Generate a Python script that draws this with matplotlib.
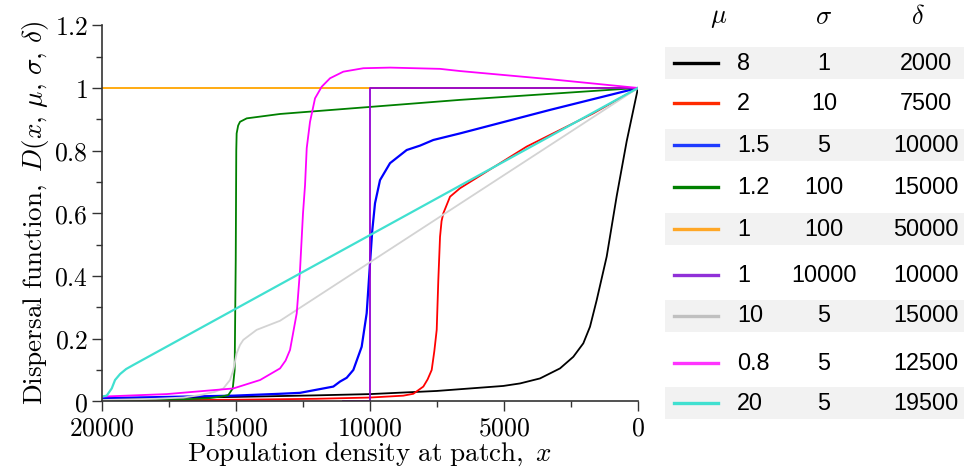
import numpy as np
import matplotlib
matplotlib.use("Agg")
import matplotlib.pyplot as plt
from matplotlib.lines import Line2D
from matplotlib.patches import Rectangle
from matplotlib.ticker import FixedLocator

plt.rcParams['font.family'] = ['DejaVu Serif']
plt.rcParams['mathtext.fontset'] = 'cm'

# parameters shown in the table
mu_vals = ['8', '2', '1.5', '1.2', '1', '1', '10', '0.8', '20']
sigma_vals = ['1', '10', '5', '100', '100', '10000', '5', '5', '5']
delta_vals = ['2000', '7500', '10000', '15000', '50000', '10000', '15000', '12500', '19500']
colores = ['black', 'red', 'blue', 'green', 'orange', 'darkviolet',
           'lightgray', 'magenta', 'turquoise']
colores_tabla = ['black', '#ff2a00', '#1f3bff', 'green', '#ffa726', '#9030d8',
                 '#c0c0c0', '#ff33ff', '#40e0d0']

x_ticks = [20000, 15000, 10000, 5000, 0]
y_ticks = [0, 0.2, 0.4, 0.6, 0.8, 1.0, 1.2]
y_tick_labels = ['0', '0.2', '0.4', '0.6', '0.8', '1', '1.2']

# curvas (x = densidad, y = D)
x_negro = [20000, 15000, 12000, 10000, 7511, 5026, 4403, 3656, 2910, 2414, 2041, 1791, 1541, 1168, 795, 422, 0]
y_negro = [0.008, 0.014, 0.019, 0.023, 0.033, 0.049, 0.057, 0.073, 0.105, 0.142, 0.185, 0.238, 0.323, 0.462, 0.655, 0.830, 1.0]

x_rojo = [20000, 15000, 12000, 10000, 8757, 8383, 8010, 7850, 7698, 7600, 7511, 7451, 7387, 7330, 7264, 7014, 6641, 4153, 1668, 0]
y_rojo = [0.003, 0.005, 0.008, 0.012, 0.018, 0.024, 0.047, 0.070, 0.100, 0.160, 0.228, 0.387, 0.525, 0.575, 0.600, 0.653, 0.680, 0.813, 0.919, 1.0]

x_azul = [20000, 15100, 13357, 12611, 11368, 11118, 10870, 10622, 10311, 10124, 10000, 9913, 9813, 9626, 9253, 8630, 8134, 7637, 6641, 3283, 0]
y_azul = [0.010, 0.018, 0.024, 0.027, 0.047, 0.063, 0.075, 0.100, 0.174, 0.281, 0.440, 0.547, 0.632, 0.706, 0.760, 0.802, 0.816, 0.834, 0.855, 0.930, 1.0]

x_verde = [20000, 17000, 16000, 15500, 15286, 15122, 15050, 15010, 14990, 14976, 14920, 14850, 14600, 13357, 6641, 0]
y_verde = [0.004, 0.006, 0.010, 0.016, 0.020, 0.041, 0.100, 0.450, 0.800, 0.855, 0.880, 0.892, 0.903, 0.917, 0.962, 1.0]

x_naranja = [20000, 0]
y_naranja = [1.0, 1.0]

x_morado = [11000, 10000, 10000, 0]
y_morado = [0.0, 0.0, 1.0, 1.0]

x_gris = [20000, 18000, 16965, 16342, 15800, 15472, 15223, 15100, 14976, 14850, 14727, 14230, 13357, 0]
y_gris = [0.004, 0.008, 0.012, 0.020, 0.030, 0.041, 0.068, 0.100, 0.153, 0.180, 0.196, 0.228, 0.257, 1.0]

x_magenta = [20000, 17585, 15100, 14100, 13357, 13150, 12984, 12734, 12611, 12500, 12424, 12361, 12238, 12051, 11802, 11491, 10995, 10249, 9253, 7387, 6641, 3283, 0]
y_magenta = [0.015, 0.023, 0.041, 0.068, 0.105, 0.130, 0.164, 0.281, 0.419, 0.600, 0.690, 0.808, 0.892, 0.967, 1.004, 1.031, 1.052, 1.063, 1.065, 1.061, 1.054, 1.028, 1.0]

x_cian = [20000, 19826, 19637, 19513, 19326, 19100, 18830, 0]
y_cian = [0.015, 0.018, 0.041, 0.068, 0.087, 0.103, 0.116, 1.0]

curvas = [(x_negro, y_negro), (x_rojo, y_rojo), (x_azul, y_azul), (x_verde, y_verde),
          (x_naranja, y_naranja), (x_morado, y_morado), (x_gris, y_gris),
          (x_magenta, y_magenta), (x_cian, y_cian)]

fig = plt.figure(figsize=(9.64, 4.76), dpi=100)
ax = fig.add_axes([102/964, 74.7/476, 536/964, 376/476])

for (xs, ys), c in zip(curvas, colores):
    lw = 1.6 if c in ('blue', 'turquoise') else 1.3
    ax.plot(xs, ys, color=c, lw=lw)

ax.set_xlim(20000, 0)
ax.set_ylim(0, 1.2)
ax.xaxis.set_major_locator(FixedLocator(x_ticks))
ax.xaxis.set_minor_locator(FixedLocator([17500, 12500, 7500, 2500]))
ax.yaxis.set_major_locator(FixedLocator(y_ticks))
ax.yaxis.set_minor_locator(FixedLocator([0.1, 0.3, 0.5, 0.7, 0.9, 1.1]))
ax.set_yticklabels(['$%s$' % t for t in y_tick_labels])
ax.set_xticklabels(['$%d$' % t for t in x_ticks])
for s in ['top', 'right']:
    ax.spines[s].set_visible(False)
for s in ['left', 'bottom']:
    ax.spines[s].set_color('#333333')
    ax.spines[s].set_linewidth(1.2)
ax.tick_params(which='major', length=7, width=1, color='#333333', labelsize=18.5, pad=3)
ax.tick_params(which='minor', length=4, width=1, color='#333333')
ax.set_xlabel(r'$\mathrm{Population\ density\ at\ patch,}\ x$', fontsize=19.5, labelpad=0)
ax.set_ylabel(r'$\mathrm{Dispersal\ function,}\ D(x,\,\mu,\,\sigma,\,\delta)$', fontsize=19.5, labelpad=2)

# tabla de parametros a la derecha (coordenadas en pixeles)
tab = fig.add_axes([640/964, 0, 324/964, 1])
tab.set_xlim(640, 964)
tab.set_ylim(476, 0)
tab.axis('off')

filas_y = [63, 103, 145, 187, 229, 275, 316, 363, 403]
tab.text(719, 17, r'$\mu$', fontsize=19, ha='center', va='center')
tab.text(824, 17, r'$\sigma$', fontsize=19, ha='center', va='center')
tab.text(918, 17, r'$\delta$', fontsize=19, ha='center', va='center')

for i, yf in enumerate(filas_y):
    if i % 2 == 0:
        tab.add_patch(Rectangle((665, yf - 16), 299, 32, color='#f2f2f2', lw=0))
    tab.add_line(Line2D([674, 718], [yf, yf], color=colores_tabla[i], lw=2.4))
    tab.text(737, yf, mu_vals[i], fontsize=16.8, family='Liberation Sans', ha='left', va='center')
    tab.text(824, yf, sigma_vals[i], fontsize=16.8, family='Liberation Sans', ha='center', va='center')
    tab.text(926, yf, delta_vals[i], fontsize=16.8, family='Liberation Sans', ha='center', va='center')

fig.savefig('out.png', dpi=100)
